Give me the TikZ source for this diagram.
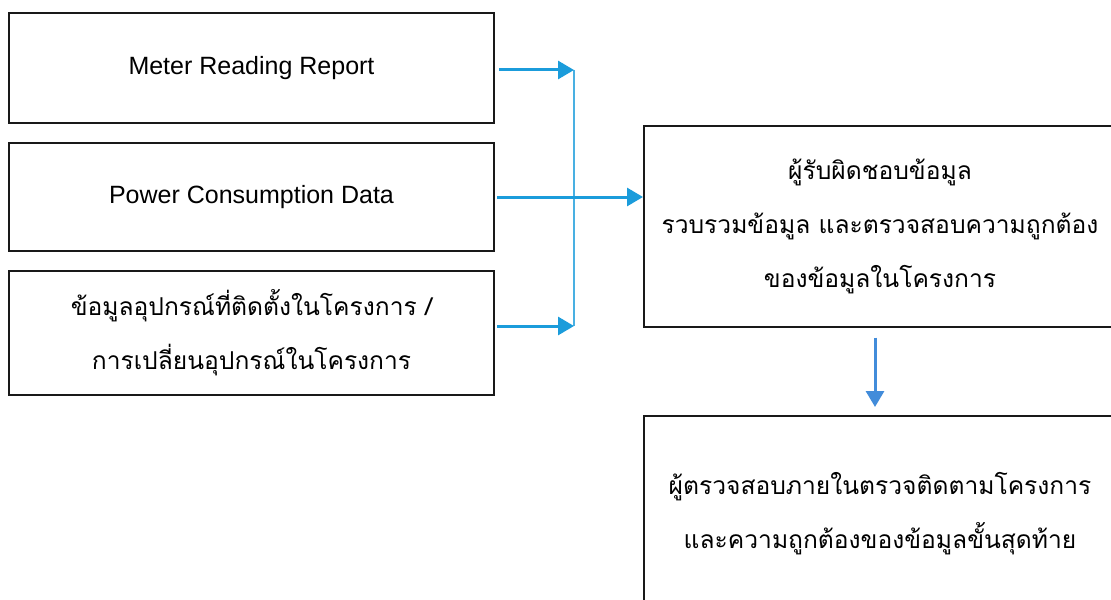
\documentclass[tikz,border=0pt]{standalone}
\usepackage{fontspec}
\setmainfont{Liberation Sans}
\newfontfamily\thaifont[Script=Thai]{Loma}
\usetikzlibrary{arrows.meta, positioning}

\definecolor{flowblue}{RGB}{27,156,219}
\definecolor{downblue}{RGB}{66,140,218}

\begin{document}
\begin{tikzpicture}[x=0.5pt, y=-0.5pt]
	\tikzset {box/.style={draw=black!90, line width=1pt, minimum width=242.5pt, inner sep=0pt, align=center, font=\fontsize{12.5}{14}\selectfont},
		thbox/.style={box, font=\thaifont\fontsize{12.3}{27}\selectfont},
		flow/.style={draw=flowblue, line width=1.5pt, -{Triangle[length=8pt, width=9pt]}},
		bus/.style={draw=flowblue!80, line width=1pt} }

	\path[use as bounding box, clip] (0,0) rectangle (1111,599);

	\node[box, minimum height=55pt] (meter) at (251.5,68) {Meter Reading Report};
	\node[box, minimum height=54pt, below=9pt of meter] (power) {Power Consumption Data};
	\node[thbox, minimum height=62pt, below=9pt of power] (device) {ข้อมูลอุปกรณ์ที่ติดตั้งในโครงการ /\\การเปลี่ยนอุปกรณ์ในโครงการ};

	\node[thbox, minimum width=236pt, minimum height=100.5pt] (owner) at (880,226) {ผู้รับผิดชอบข้อมูล\\รวบรวมข้อมูล และตรวจสอบความถูกต้อง\\ของข้อมูลในโครงการ};
	\node[thbox, minimum width=236pt, minimum height=98pt] (auditor) at (880,514) {ผู้ตรวจสอบภายในตรวจติดตามโครงการ\\และความถูกต้องของข้อมูลขั้นสุดท้าย};

	\coordinate (busx) at (574,0);
	\coordinate (bustop) at ([yshift=-1pt]meter.east -| busx);
	\coordinate (busbot) at ([yshift=3.5pt]device.east -| busx);

	% inputs to the collector line
	\draw[bus] (bustop) -- (busbot);
	\draw[flow, shorten <=2pt] ([yshift=-1pt]meter.east) -- (bustop);
	\draw[flow, shorten <=1pt] ([yshift=3.5pt]device.east) -- (busbot);
	\draw[flow, shorten <=1pt] (power.east) -- (power.east -| owner.west);

	\draw[flow, draw=downblue, shorten <=5pt, shorten >=4pt] (owner.south -| 875,0) -- (auditor.north -| 875,0);
\end{tikzpicture}
\end{document}
